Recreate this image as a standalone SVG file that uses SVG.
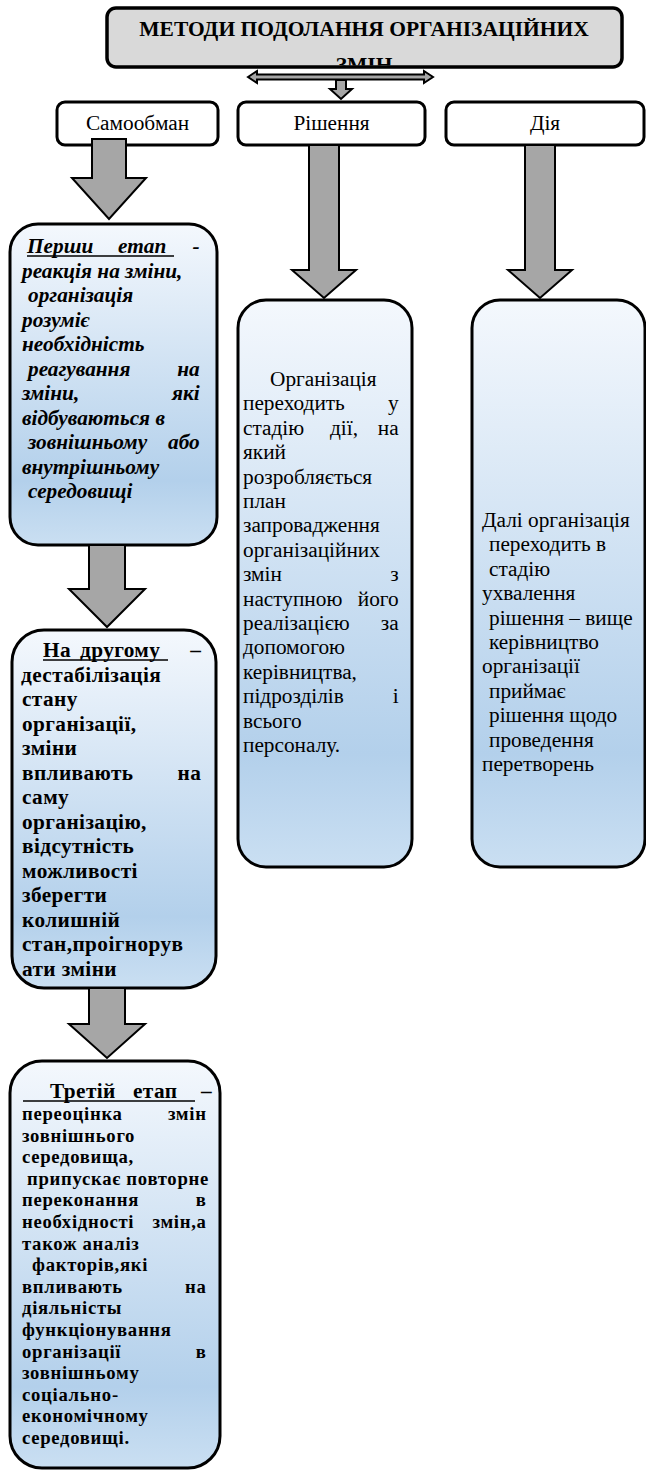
<svg xmlns="http://www.w3.org/2000/svg" width="646" height="1476" viewBox="0 0 646 1476">
<defs>
<linearGradient id="g" x1="0" y1="0" x2="0" y2="1">
<stop offset="0" stop-color="#f4f8fd"/>
<stop offset="0.8" stop-color="#b3d0eb"/>
<stop offset="1" stop-color="#cadff2"/>
</linearGradient>
<clipPath id="tc"><rect x="108.5" y="9.5" width="512" height="56"/></clipPath>
</defs>
<style>
.t{font-family:"Liberation Serif","Times New Roman",serif;fill:#000}
.box{stroke:#000;stroke-width:3;fill:url(#g)}
.lbl{fill:#fff;stroke:#000;stroke-width:3}
.arr{fill:#a6a6a6;stroke:#000;stroke-width:2;stroke-linejoin:miter}
.bi{font-size:21.3px;font-weight:bold;font-style:italic}
.b{font-size:21.3px;font-weight:bold;letter-spacing:0.4px}
.s{font-size:18.7px;font-weight:bold;letter-spacing:0.7px}
.r{font-size:21.3px}
.ul{stroke:#000;stroke-width:1.5}
</style>
<g id="title">
<rect x="107" y="8" width="515" height="59" rx="9" fill="#d9d9d9" stroke="#000" stroke-width="3.5"/>
<text class="t" x="364" y="36" text-anchor="middle" font-size="21.5" font-weight="bold">МЕТОДИ ПОДОЛАННЯ ОРГАНІЗАЦІЙНИХ</text>
<text class="t" x="364" y="72" text-anchor="middle" font-size="21.5" font-weight="bold" clip-path="url(#tc)">ЗМІН</text>
</g>
<g id="lbl-samoobman">
<rect class="lbl" x="57" y="102" width="161" height="43" rx="8"/>
<text class="t r" x="137.5" y="130" text-anchor="middle">Самообман</text>
</g>
<g id="lbl-rishennia">
<rect class="lbl" x="238" y="102" width="187" height="43" rx="8"/>
<text class="t r" x="331.5" y="130" text-anchor="middle">Рішення</text>
</g>
<g id="lbl-diia">
<rect class="lbl" x="446" y="102" width="198" height="43" rx="8"/>
<text class="t r" x="545" y="130" text-anchor="middle">Дія</text>
</g>
<g id="stage1">
<rect class="box" x="10" y="224" width="207" height="321" rx="28"/>
<text class="t bi">
<tspan x="27" y="253">Перши</tspan><tspan x="118" y="253">етап</tspan><tspan x="205" y="253" text-anchor="end">-</tspan>
<tspan x="22" y="277.5">реакція на зміни,</tspan>
<tspan x="28" y="302">організація</tspan>
<tspan x="22" y="326.5">розуміє</tspan>
<tspan x="22" y="351">необхідність</tspan>
<tspan x="28" y="375.5">реагування</tspan><tspan x="205" y="375.5" text-anchor="end">на</tspan>
<tspan x="22" y="400">зміни,</tspan><tspan x="205" y="400" text-anchor="end">які</tspan>
<tspan x="22" y="424.5">відбуваються в</tspan>
<tspan x="28" y="449">зовнішньому</tspan><tspan x="205" y="449" text-anchor="end">або</tspan>
<tspan x="22" y="473.5">внутрішньому</tspan>
<tspan x="28" y="498">середовищі</tspan>
</text>
<line class="ul" x1="27" y1="256" x2="174" y2="256"/>
</g>
<g id="stage2">
<rect class="box" x="12" y="630" width="204" height="358" rx="32"/>
<text class="t b">
<tspan x="43" y="657">На</tspan><tspan x="80" y="657">другому</tspan><tspan x="207" y="657" text-anchor="end">–</tspan>
<tspan x="21" y="681.5">дестабілізація</tspan>
<tspan x="22" y="706">стану</tspan>
<tspan x="22" y="730.5">організації,</tspan>
<tspan x="22" y="755">зміни</tspan>
<tspan x="22" y="779.5">впливають</tspan><tspan x="207" y="779.5" text-anchor="end">на</tspan>
<tspan x="22" y="804">саму</tspan>
<tspan x="22" y="828.5">організацію,</tspan>
<tspan x="22" y="853">відсутність</tspan>
<tspan x="22" y="877.5">можливості</tspan>
<tspan x="22" y="902">зберегти</tspan>
<tspan x="22" y="926.5">колишній</tspan>
<tspan x="22" y="951">стан,проігнорув</tspan>
<tspan x="22" y="975.5">ати  зміни</tspan>
</text>
<line class="ul" x1="43" y1="660" x2="168" y2="660"/>
</g>
<g id="stage3">
<rect class="box" x="10" y="1061" width="210" height="407" rx="32"/>
<text class="t b">
<tspan x="50" y="1098">Третій</tspan><tspan x="133" y="1098">етап</tspan><tspan x="212" y="1098" text-anchor="end">–</tspan>
</text>
<line class="ul" x1="23" y1="1101" x2="195" y2="1101"/>
<text class="t s">
<tspan x="22" y="1120">переоцінка</tspan><tspan x="212" y="1120" text-anchor="end">змін</tspan>
<tspan x="22" y="1141.6">зовнішнього</tspan>
<tspan x="22" y="1163.2">середовища,</tspan>
<tspan x="27" y="1184.8">припускає повторне</tspan>
<tspan x="22" y="1206.4">переконання</tspan><tspan x="212" y="1206.4" text-anchor="end">в</tspan>
<tspan x="22" y="1228">необхідності</tspan><tspan x="212" y="1228" text-anchor="end">змін,а</tspan>
<tspan x="22" y="1249.6">також аналіз</tspan>
<tspan x="32" y="1271.2">факторів,які</tspan>
<tspan x="22" y="1292.8">впливають</tspan><tspan x="212" y="1292.8" text-anchor="end">на</tspan>
<tspan x="22" y="1314.4">діяльністы</tspan>
<tspan x="22" y="1336">функціонування</tspan>
<tspan x="22" y="1357.6">організації</tspan><tspan x="212" y="1357.6" text-anchor="end">в</tspan>
<tspan x="22" y="1379.2">зовнішньому</tspan>
<tspan x="22" y="1400.8">соціально-</tspan>
<tspan x="22" y="1422.4">економічному</tspan>
<tspan x="22" y="1444">середовищі.</tspan>
</text>
</g>
<g id="decision">
<rect class="box" x="238" y="300" width="174" height="567" rx="28"/>
<text class="t r">
<tspan x="270" y="386">Організація</tspan>
<tspan x="243" y="410.4">переходить</tspan><tspan x="404" y="410.4" text-anchor="end">у</tspan>
<tspan x="243" y="434.8">стадію</tspan><tspan x="330" y="434.8">дії,</tspan><tspan x="404" y="434.8" text-anchor="end">на</tspan>
<tspan x="243" y="459.2">який</tspan>
<tspan x="243" y="483.6">розробляється</tspan>
<tspan x="243" y="508">план</tspan>
<tspan x="243" y="532.4">запровадження</tspan>
<tspan x="243" y="556.8">організаційних</tspan>
<tspan x="243" y="581.2">змін</tspan><tspan x="404" y="581.2" text-anchor="end">з</tspan>
<tspan x="243" y="605.6">наступною</tspan><tspan x="404" y="605.6" text-anchor="end">його</tspan>
<tspan x="243" y="630">реалізацією</tspan><tspan x="404" y="630" text-anchor="end">за</tspan>
<tspan x="243" y="654.4">допомогою</tspan>
<tspan x="243" y="678.8">керівництва,</tspan>
<tspan x="243" y="703.2">підрозділів</tspan><tspan x="404" y="703.2" text-anchor="end">і</tspan>
<tspan x="243" y="727.6">всього</tspan>
<tspan x="243" y="752">персоналу.</tspan>
</text>
</g>
<g id="action">
<rect class="box" x="472" y="300" width="173" height="567" rx="28"/>
<text class="t r">
<tspan x="482" y="527">Далі організація</tspan>
<tspan x="489" y="551.4">переходить в</tspan>
<tspan x="489" y="575.8">стадію</tspan>
<tspan x="482" y="600.2">ухвалення</tspan>
<tspan x="489" y="624.6">рішення – вище</tspan>
<tspan x="489" y="649">керівництво</tspan>
<tspan x="482" y="673.4">організації</tspan>
<tspan x="489" y="697.8">приймає</tspan>
<tspan x="489" y="722.2">рішення щодо</tspan>
<tspan x="489" y="746.6">проведення</tspan>
<tspan x="482" y="771">перетворень</tspan>
</text>
</g>
<g id="connectors">
<polygon class="arr" points="248,77 257,71 257,74.5 424,74.5 424,71 433,77 424,83 424,79.5 257,79.5 257,83"/>
<polygon class="arr" points="336,80 346,80 346,89 352,89 341,99 330,89 336,89"/>
<polygon class="arr" points="92,139 126,139 126,178 146,178 109,219 72,178 92,178"/>
<polygon class="arr" points="89,545 125,545 125,589 145,589 107,627 69,589 89,589"/>
<polygon class="arr" points="89,988 125,988 125,1024 145,1024 107,1058 69,1024 89,1024"/>
<polygon class="arr" points="309,145 339,145 339,270 356,270 324,298 292,270 309,270"/>
<polygon class="arr" points="525,145 555,145 555,270 572,270 540,298 508,270 525,270"/>
</g>
</svg>
